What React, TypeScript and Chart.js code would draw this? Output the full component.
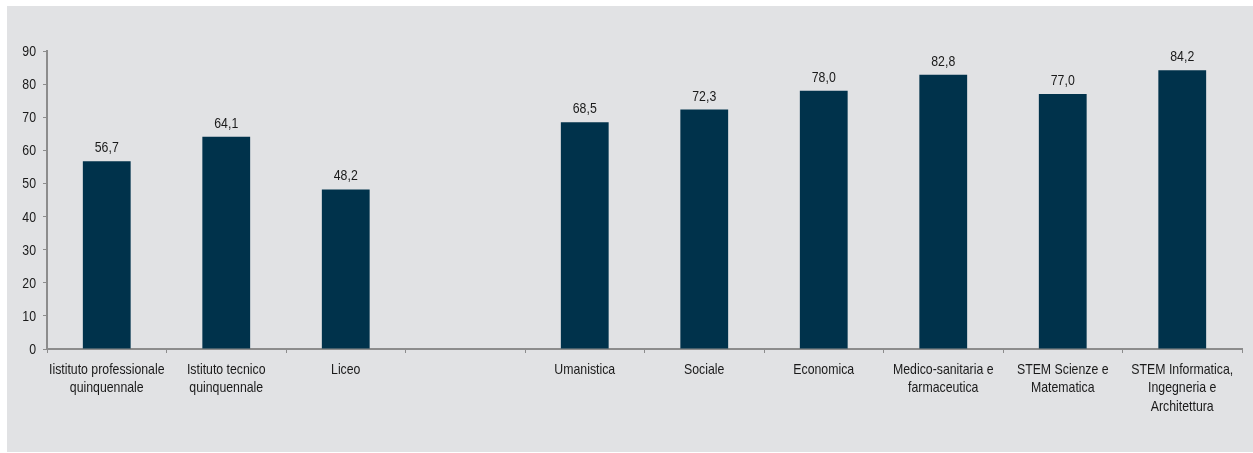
import React, { useEffect, useRef } from "react";
import { Chart, registerables } from "chart.js";

Chart.register(...registerables);

const categories: (string | string[])[] = [
  ["Iistituto professionale", "quinquennale"],
  ["Istituto tecnico", "quinquennale"],
  "Liceo",
  "",
  "Umanistica",
  "Sociale",
  "Economica",
  ["Medico-sanitaria e", "farmaceutica"],
  ["STEM Scienze e", "Matematica"],
  ["STEM Informatica,", "Ingegneria e", "Architettura"],
];

const values: (number | null)[] = [56.7, 64.1, 48.2, null, 68.5, 72.3, 78.0, 82.8, 77.0, 84.2];

const yTicks = { min: 0, max: 90, step: 10 };

const FONT = "'Liberation Sans Narrow', 'Arial Narrow', 'Liberation Sans', Arial, sans-serif";
const NARROW = 0.82;
const TEXT_COLOR = "#1a1a1a";

function narrowText(ctx: CanvasRenderingContext2D, text: string, x: number, y: number, align: CanvasTextAlign) {
  ctx.save();
  ctx.translate(x, y);
  ctx.scale(NARROW, 1);
  ctx.textAlign = align;
  ctx.fillText(text, 0, 0);
  ctx.restore();
}

const narrowLabels = {
  id: "narrowLabels",
  afterDraw(chart: any) {
    const ctx: CanvasRenderingContext2D = chart.ctx;
    ctx.save();
    ctx.font = `15px ${FONT}`;
    ctx.fillStyle = TEXT_COLOR;
    ctx.textBaseline = "alphabetic";

    // data labels
    const meta = chart.getDatasetMeta(0);
    meta.data.forEach((bar: any, i: number) => {
      const v = values[i];
      if (v == null) return;
      narrowText(ctx, v.toFixed(1).replace(".", ","), bar.x, bar.y - 9, "center");
    });

    // x labels
    const xs = chart.scales.x;
    const bottom = chart.chartArea.bottom;
    categories.forEach((c, i) => {
      const lines = Array.isArray(c) ? c : [c];
      const x = xs.getPixelForValue(i);
      lines.forEach((ln, j) => {
        narrowText(ctx, ln, x, bottom + 25 + j * 18.3, "center");
      });
    });

    // y labels
    const ys = chart.scales.y;
    for (let v = yTicks.min; v <= yTicks.max; v += yTicks.step) {
      narrowText(ctx, String(v), ys.left + ys.width - 11, ys.getPixelForValue(v) + 5, "right");
    }
    ctx.restore();
  },
};

export default function App() {
  const ref = useRef<HTMLCanvasElement | null>(null);

  useEffect(() => {
    document.body.style.margin = "0";
    const canvas = ref.current!;
    const chart = new Chart(canvas, {
      type: "bar",
      data: {
        labels: categories,
        datasets: [
          {
            data: values,
            backgroundColor: "#00324b",
            categoryPercentage: 1,
            barPercentage: 0.4,
          },
        ],
      },
      options: {
        animation: false,
        responsive: false,
        maintainAspectRatio: false,
        layout: { padding: { left: 7, right: 11, top: 51, bottom: 0 } },
        plugins: { legend: { display: false }, tooltip: { enabled: false } },
        scales: {
          x: {
            offset: true,
            grid: {
              offset: true,
              drawOnChartArea: false,
              drawTicks: true,
              tickLength: 4,
              color: "#8c8c8c",
            },
            border: { color: "#8c8c8c", width: 2 },
            ticks: {
              color: "rgba(0,0,0,0)",
              font: { family: FONT, size: 12 },
              padding: 5,
              maxRotation: 0,
              autoSkip: false,
            },
            afterFit: (s: any) => {
              s.height = 453 - 349;
            },
          },
          y: {
            min: yTicks.min,
            max: yTicks.max,
            grid: {
              drawOnChartArea: false,
              drawTicks: true,
              tickLength: 4,
              color: "#8c8c8c",
            },
            border: { color: "#8c8c8c", width: 2 },
            ticks: {
              stepSize: yTicks.step,
              color: "rgba(0,0,0,0)",
              font: { family: FONT, size: 12 },
              padding: 7,
            },
            afterFit: (s: any) => {
              s.width = 40;
            },
          },
        },
      },
      plugins: [narrowLabels],
    });
    return () => chart.destroy();
  }, []);

  return (
    <div style={{ position: "absolute", left: 0, top: 0, width: 1253, height: 453, background: "#ffffff" }}>
      <div style={{ position: "absolute", left: 7, top: 6, width: 1246, height: 446, background: "#e1e2e4" }} />
      <canvas ref={ref} width={1253} height={453} style={{ position: "absolute", left: 0, top: 0, width: 1253, height: 453 }} />
    </div>
  );
}
